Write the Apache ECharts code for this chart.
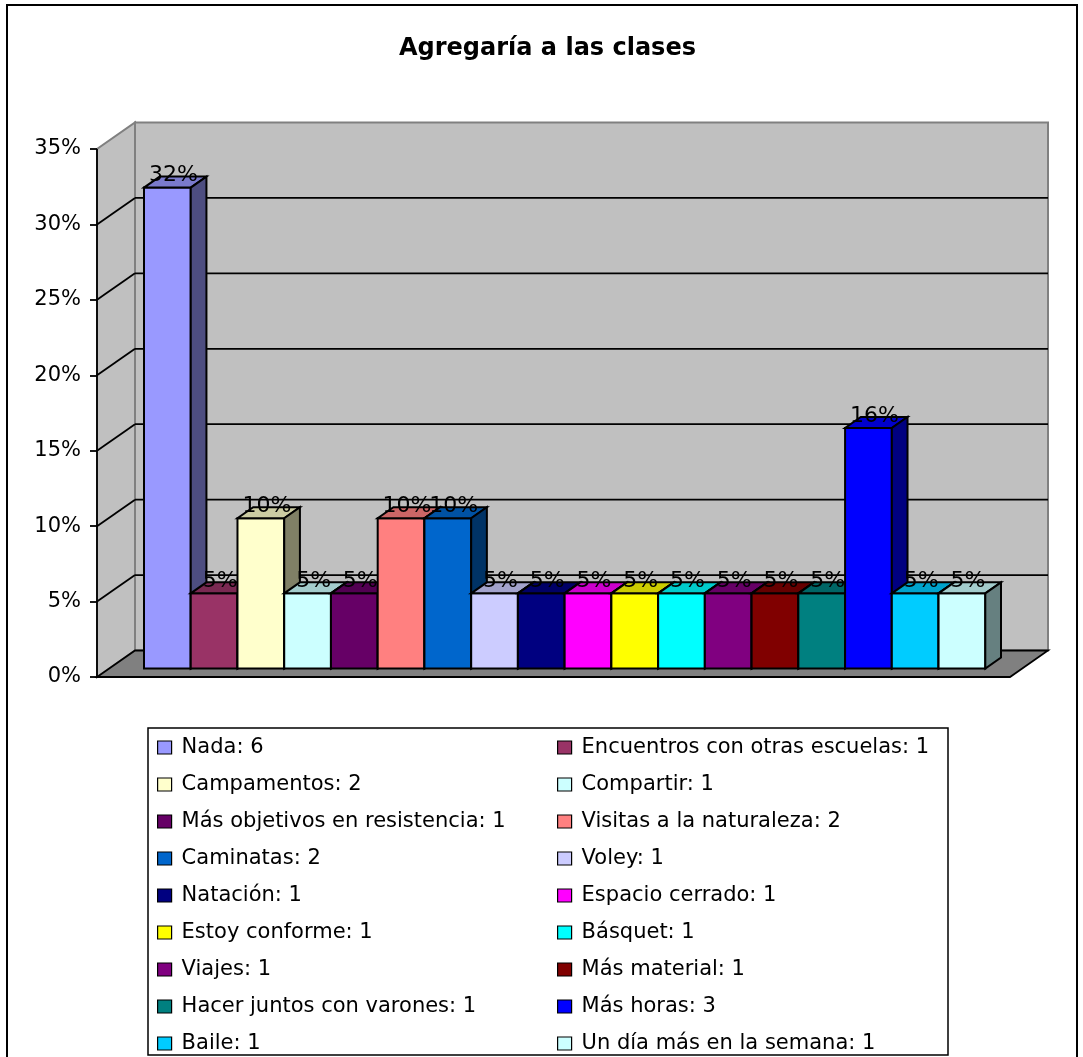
<!DOCTYPE html>
<html>
<head>
<meta charset="utf-8">
<script src="https://cdn.jsdelivr.net/npm/echarts@6/dist/echarts.min.js"></script>
<style>
html,body{margin:0;padding:0;background:#fff;}
#chart{width:1083px;height:1057px;}
</style>
</head>
<body>
<div id="chart"></div>
<script>
const titleText = 'Agregaría a las clases';
const categories = ['Nada','Encuentros con otras escuelas','Campamentos','Compartir','Más objetivos en resistencia','Visitas a la naturaleza','Caminatas','Voley','Natación','Espacio cerrado','Estoy conforme','Básquet','Viajes','Más material','Hacer juntos con varones','Más horas','Baile','Un día más en la semana'];
const counts = [6,1,2,1,1,2,2,1,1,1,1,1,1,1,1,3,1,1];
const percents = [32,5,10,5,5,10,10,5,5,5,5,5,5,5,5,16,5,5];
const colors = ['#9999FF','#993366','#FFFFCC','#CCFFFF','#660066','#FF8080','#0066CC','#CCCCFF','#000080','#FF00FF','#FFFF00','#00FFFF','#800080','#800000','#008080','#0000FF','#00CCFF','#CCFFFF'];
const yTicks = [0,5,10,15,20,25,30,35];

const FONT = '"DejaVu Sans", "Liberation Sans", Arial, sans-serif';
const WALL_D = [38, -26.5];
const BAR_D = [15.7, -11];

function shade(hex, f) {
  const n = parseInt(hex.slice(1), 16);
  const r = Math.round(((n >> 16) & 255) * f);
  const g = Math.round(((n >> 8) & 255) * f);
  const b = Math.round((n & 255) * f);
  return 'rgb(' + r + ',' + g + ',' + b + ')';
}

const chart = echarts.init(document.getElementById('chart'), null, {renderer: 'canvas'});

const wallsSeries = {
  type: 'custom',
  name: '__walls',
  xAxisIndex: 0,
  yAxisIndex: 0,
  z: 1,
  clip: false,
  silent: true,
  data: [[0, 0]],
  renderItem: function (params, api) {
    const yMax = yTicks[yTicks.length - 1];
    const p00 = api.coord([0, 0]);
    const p10 = api.coord([1, 0]);
    const p0t = api.coord([0, yMax]);
    const p1t = api.coord([1, yMax]);
    const dx = WALL_D[0], dy = WALL_D[1];
    const children = [];
    children.push({type: 'polygon', shape: {points: [[p00[0], p00[1]], [p0t[0], p0t[1]], [p0t[0] + dx, p0t[1] + dy], [p00[0] + dx, p00[1] + dy]]},
      style: {fill: '#C0C0C0', stroke: '#808080', lineWidth: 2}});
    children.push({type: 'polygon', shape: {points: [[p0t[0] + dx, p0t[1] + dy], [p1t[0] + dx, p1t[1] + dy], [p10[0] + dx, p10[1] + dy], [p00[0] + dx, p00[1] + dy]]},
      style: {fill: '#C0C0C0', stroke: '#808080', lineWidth: 2}});
    yTicks.forEach(function (v) {
      if (v === 0 || v === yMax) return;
      const p = api.coord([0, v]);
      const q = api.coord([1, v]);
      children.push({type: 'line', shape: {x1: p[0], y1: p[1], x2: p[0] + dx, y2: p[1] + dy}, style: {stroke: '#000', lineWidth: 1.8}});
      children.push({type: 'line', shape: {x1: p[0] + dx, y1: p[1] + dy, x2: q[0] + dx, y2: q[1] + dy}, style: {stroke: '#000', lineWidth: 1.8}});
    });
    children.push({type: 'polygon', shape: {points: [[p00[0], p00[1]], [p10[0], p10[1]], [p10[0] + dx, p10[1] + dy], [p00[0] + dx, p00[1] + dy]]},
      style: {fill: '#808080', stroke: '#000', lineWidth: 1.8}});
    children.push({type: 'line', shape: {x1: p00[0], y1: p00[1], x2: p0t[0], y2: p0t[1]}, style: {stroke: '#000', lineWidth: 1.8}});
    return {type: 'group', children: children};
  }
};

const barSeries = categories.map(function (name, i) {
  return {
    type: 'custom',
    name: name,
    xAxisIndex: 1,
    yAxisIndex: 1,
    z: 2,
    clip: false,
    itemStyle: {color: colors[i], borderColor: '#000', borderWidth: 1},
    data: [[i, percents[i]]],
    renderItem: function (params, api) {
      const idx = api.value(0), v = api.value(1);
      const base = api.coord([idx, 0]);
      const top = api.coord([idx, v]);
      const w = api.size([1, 0])[0];
      const x0 = base[0] - w / 2, x1 = base[0] + w / 2;
      const yb = base[1], yt = top[1];
      const dx = BAR_D[0], dy = BAR_D[1];
      const c = colors[i];
      return {
        type: 'group',
        children: [
          {type: 'rect', shape: {x: x0, y: yt, width: w, height: yb - yt}, style: {fill: c, stroke: '#000', lineWidth: 2}},
          {type: 'polygon', shape: {points: [[x0, yt], [x1, yt], [x1 + dx, yt + dy], [x0 + dx, yt + dy]]}, style: {fill: shade(c, 0.8), stroke: '#000', lineWidth: 2}},
          {type: 'polygon', shape: {points: [[x1, yb], [x1, yt], [x1 + dx, yt + dy], [x1 + dx, yb + dy]]}, style: {fill: shade(c, 0.5), stroke: '#000', lineWidth: 2}},
          {type: 'text', z2: 100, style: {text: v + '%', x: base[0] + 6, y: yt - 12, fill: '#000', font: '22px ' + FONT, align: 'center', verticalAlign: 'middle', textAlign: 'center', textVerticalAlign: 'middle'}}
        ]
      };
    }
  };
});

function legendCfg(parity, left) {
  return {
    data: categories.filter(function (_, i) { return i % 2 === parity; }),
    orient: 'vertical',
    left: left,
    top: 737,
    padding: 0,
    itemGap: 16,
    itemWidth: 14,
    itemHeight: 13,
    icon: 'rect',
    selectedMode: false,
    itemStyle: {borderColor: '#000', borderWidth: 1.2},
    textStyle: {fontFamily: FONT, fontSize: 21, color: '#000', lineHeight: 21, padding: [0, 0, 0, 5]},
    formatter: function (name) { return name + ': ' + counts[categories.indexOf(name)]; }
  };
}

chart.setOption({
  animation: false,
  backgroundColor: '#fff',
  title: {
    text: titleText,
    left: 399,
    top: 37,
    padding: 0,
    textStyle: {fontFamily: FONT, fontWeight: 'bold', fontSize: 24, color: '#000'}
  },
  grid: [
    {left: 97, top: 149, width: 913, height: 528},
    {left: 144, top: 142.5, width: 841.3, height: 526}
  ],
  xAxis: [
    {type: 'value', gridIndex: 0, min: 0, max: 1, show: false},
    {type: 'category', gridIndex: 1, data: categories, show: false, boundaryGap: true}
  ],
  yAxis: [
    {type: 'value', gridIndex: 0, min: 0, max: 35, interval: 5, z: 10,
      axisLine: {show: false},
      axisTick: {show: true, length: 7, lineStyle: {color: '#000', width: 1.8}},
      splitLine: {show: false},
      axisLabel: {formatter: '{value}%', margin: 16, fontFamily: FONT, fontSize: 21, color: '#000'}},
    {type: 'value', gridIndex: 1, min: 0, max: 35, show: false}
  ],
  legend: [legendCfg(0, 157), legendCfg(1, 557)],
  graphic: [
    {type: 'rect', z: 0, shape: {x: 7, y: 5, width: 1070, height: 1080}, style: {fill: null, stroke: '#000', lineWidth: 2}},
    {type: 'rect', z: 0, shape: {x: 148, y: 728, width: 800, height: 327}, style: {fill: null, stroke: '#000', lineWidth: 1.5}}
  ],
  series: [wallsSeries].concat(barSeries)
});
</script>
</body>
</html>
